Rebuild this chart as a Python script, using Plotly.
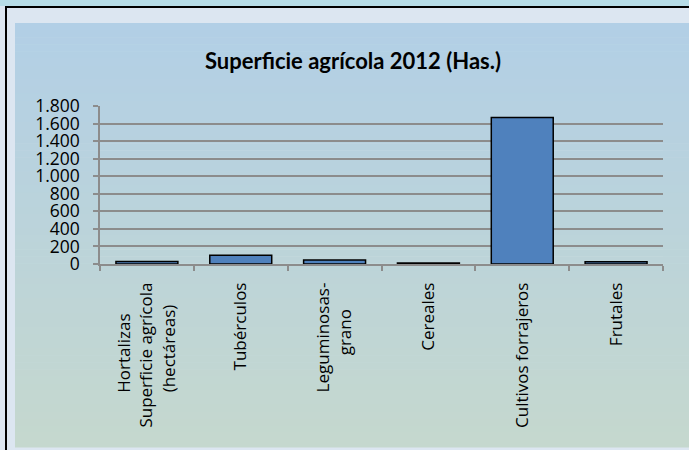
import plotly.graph_objects as go

NB = "\u00a0"  # pads short lines so wrapped labels look centred, as in Excel

# chart data
categories = [
    "Hortalizas" + NB * 7 + "<br>Superficie agrícola<br>(hectáreas)" + NB * 5,
    "Tubérculos",
    "Leguminosas-<br>grano" + NB * 6,
    "Cereales",
    "Cultivos forrajeros",
    "Frutales",
]
hectares = [28, 100, 45, 12, 1670, 25]
y_ticks = [0, 200, 400, 600, 800, 1000, 1200, 1400, 1600, 1800]

BAR_BLUE = "#4F81BD"
GRID_GRAY = "#8C8C8C"
PANEL = "#DCE6F1"
TOP_STRIP = "#B7DDE8"
GRAD_TOP = (178, 207, 230)
GRAD_BOTTOM = (197, 216, 206)

W, H = 689, 450
L, R, T, B = 100, 26, 106, 186
PW, PH = W - L - R, H - T - B


def px_x(x):
    return (x - L) / PW


def px_y(y):
    return (H - B - y) / PH


def rect(x0, y0, x1, y1, color):
    return dict(
        type="rect", xref="paper", yref="paper", layer="below",
        x0=px_x(x0), x1=px_x(x1), y0=px_y(y1), y1=px_y(y0),
        fillcolor=color, line=dict(width=0),
    )


shapes = [
    rect(0, 0, W, 6, TOP_STRIP),
    rect(5, 6, W, 8, "black"),
    rect(5, 6, 7, H, "black"),
]
# background gradient of the chart area, drawn as thin bands
g_top, g_bot, n = 23, 447, 60
step = (g_bot - g_top) / n
for i in range(n):
    t = (i + 0.5) / n
    c = tuple(round(a + (b - a) * t) for a, b in zip(GRAD_TOP, GRAD_BOTTOM))
    shapes.append(rect(15, g_top + i * step, W, g_top + (i + 1) * step + 0.6,
                       "rgb(%d,%d,%d)" % c))

fig = go.Figure(
    go.Bar(
        x=categories,
        y=hectares,
        marker=dict(color=BAR_BLUE, line=dict(color="black", width=1.5)),
    )
)
fig.update_layout(
    width=W,
    height=H,
    margin=dict(l=L, r=R, t=T, b=B),
    paper_bgcolor=PANEL,
    plot_bgcolor="white",
    separators=",.",
    bargap=0.34,
    showlegend=False,
    shapes=shapes,
    font=dict(family="Open Sans", size=17, color="black"),
    title=dict(
        text="<b>Superficie agrícola 2012 (Has.)</b>",
        font=dict(family="Lato", size=22, color="black"),
        x=353 / W, xref="container", xanchor="center",
        y=1 - 61 / H, yref="container", yanchor="middle",
    ),
)
fig.update_yaxes(
    range=[0, 1800],
    tickvals=y_ticks,
    tickformat=",d",
    tickfont=dict(size=17.5),
    showgrid=True,
    gridcolor=GRID_GRAY,
    gridwidth=1.5,
    showline=True,
    linecolor=GRID_GRAY,
    linewidth=1.5,
    ticks="outside",
    ticklen=5,
    tickcolor=GRID_GRAY,
    tickwidth=1.5,
    zeroline=False,
    ticklabelstandoff=10,
)
fig.update_xaxes(
    tickangle=-90,
    showline=True,
    linecolor=GRID_GRAY,
    linewidth=1.5,
    ticks="outside",
    tickson="boundaries",
    ticklen=5,
    tickcolor=GRID_GRAY,
    tickwidth=1.5,
    ticklabelstandoff=10,
)
fig.write_html(
    "out.html",
    config={"displayModeBar": False},
    post_script="document.body.style.margin='0';",
)
